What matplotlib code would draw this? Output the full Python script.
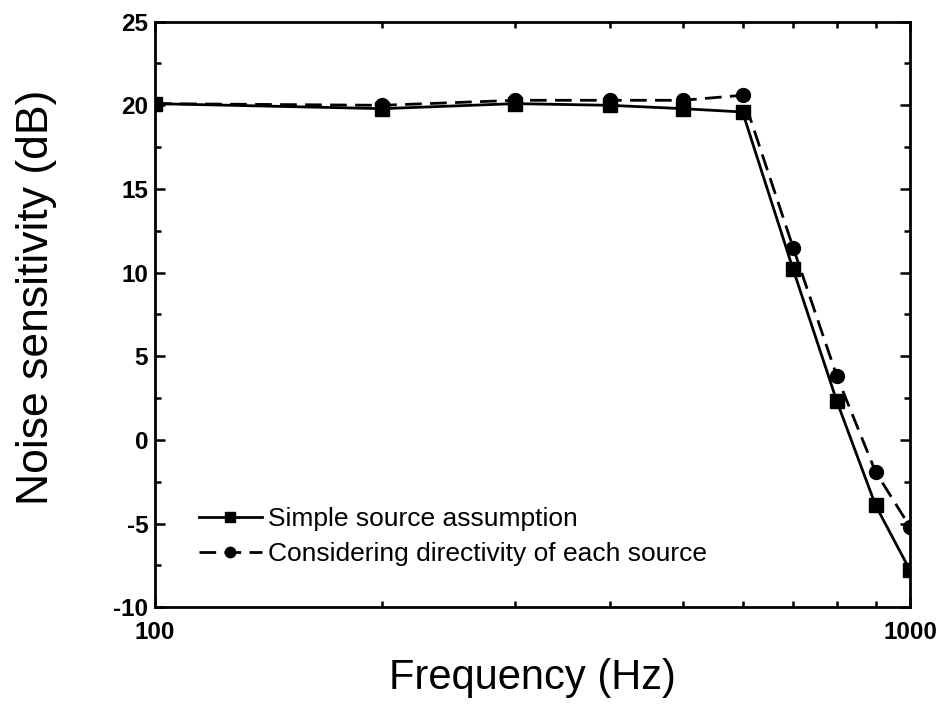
import matplotlib
matplotlib.use('Agg')
import matplotlib.pyplot as plt
from matplotlib.ticker import FixedLocator, NullFormatter, MultipleLocator

plt.rcParams['font.family'] = ['Liberation Sans', 'DejaVu Sans']
plt.rcParams['axes.unicode_minus'] = False

freq = [100, 200, 300, 400, 500, 600, 700, 800, 900, 1000]
simple = [20.1, 19.8, 20.1, 20.0, 19.8, 19.6, 10.2, 2.3, -3.9, -7.8]
directivity = [20.1, 20.0, 20.3, 20.3, 20.3, 20.6, 11.5, 3.8, -1.9, -5.2]

fig = plt.figure(figsize=(9.46, 7.22), dpi=100)
ax = fig.add_axes([0.164, 0.159, 0.798, 0.811])

ax.plot(freq, simple, '-', color='black', lw=2.0, marker='s', ms=10,
        label='Simple source assumption')
ax.plot(freq, directivity, '--', color='black', lw=2.0, marker='o', ms=10,
        dashes=(6, 3), label='Considering directivity of each source')

ax.set_xscale('log')
ax.set_xlim(100, 1000)
ax.set_ylim(-10, 25)
ax.xaxis.set_major_locator(FixedLocator([100, 1000]))
ax.xaxis.set_minor_locator(FixedLocator([200, 300, 400, 500, 600, 700, 800, 900]))
ax.xaxis.set_minor_formatter(NullFormatter())
ax.set_xticklabels(['100', '1000'])
ax.yaxis.set_major_locator(MultipleLocator(5))
ax.yaxis.set_minor_locator(MultipleLocator(2.5))

ax.tick_params(which='both', direction='in', top=True, right=True, width=1.8)
ax.tick_params(which='major', length=7, labelsize=17.5)
ax.tick_params(axis='y', pad=5)
ax.tick_params(axis='x', pad=10)
ax.tick_params(which='minor', length=4)
for lbl in ax.get_xticklabels() + ax.get_yticklabels():
    lbl.set_fontweight('bold')
for s in ax.spines.values():
    s.set_linewidth(2)

ax.set_xlabel('Frequency (Hz)', fontsize=30, labelpad=10)
ax.set_ylabel('Noise sensitivity (dB)', fontsize=32)
ax.yaxis.set_label_coords(-0.13, 0.53)

ax.legend(loc='lower left', bbox_to_anchor=(0.026, 0.03), frameon=False,
          fontsize=19, handlelength=2.4, handletextpad=0.25, labelspacing=0.4,
          markerscale=0.75)

fig.savefig('out.png', dpi=100)
